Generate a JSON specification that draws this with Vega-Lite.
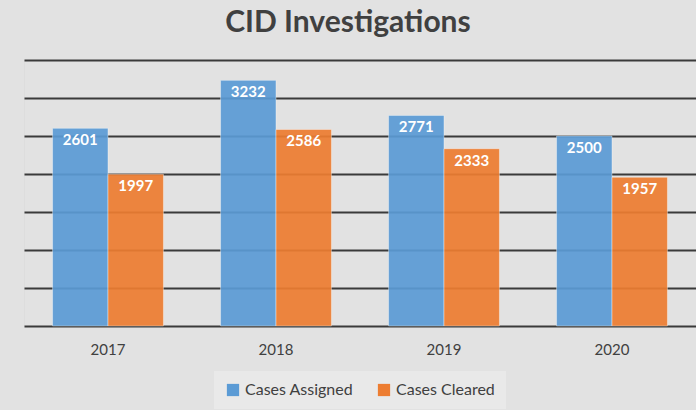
{
  "$schema": "https://vega.github.io/schema/vega-lite/v6.json",
  "width": 672,
  "height": 266,
  "autosize": {"type": "none"},
  "padding": {"left": 24, "top": 60, "right": 0, "bottom": 84},
  "background": "#e2e2e2",
  "title": {"text": "CID Investigations", "fontSize": 30, "font": "Lato", "fontWeight": "bold", "color": "#404040", "offset": 22, "anchor": "middle", "dx": -12},
  "data": {"values": [
    {"year": "2017", "series": "Cases Assigned", "value": 2601},
    {"year": "2017", "series": "Cases Cleared", "value": 1997},
    {"year": "2018", "series": "Cases Assigned", "value": 3232},
    {"year": "2018", "series": "Cases Cleared", "value": 2586},
    {"year": "2019", "series": "Cases Assigned", "value": 2771},
    {"year": "2019", "series": "Cases Cleared", "value": 2333},
    {"year": "2020", "series": "Cases Assigned", "value": 2500},
    {"year": "2020", "series": "Cases Cleared", "value": 1957}
  ]},
  "encoding": {
    "x": {"field": "year", "type": "nominal", "scale": {"paddingInner": 0.34, "paddingOuter": 0.17},
      "axis": {"title": null, "labelAngle": 0, "ticks": false, "domain": false, "labelPadding": 16, "labelFontSize": 15, "labelFont": "Lato", "labelColor": "#404040"}},
    "xOffset": {"field": "series", "type": "nominal", "sort": ["Cases Assigned", "Cases Cleared"]},
    "y": {"field": "value", "type": "quantitative", "scale": {"domain": [0, 3500], "nice": false},
      "axis": {"title": null, "labels": false, "ticks": false, "domain": false, "values": [0, 500, 1000, 1500, 2000, 2500, 3000, 3500], "gridColor": "#3a3a3a", "gridWidth": 2}}
  },
  "layer": [
    {"mark": {"type": "bar", "opacity": 0.92, "stroke": "#ffffff", "strokeOpacity": 0.4, "strokeWidth": 1},
      "encoding": {"color": {"field": "series", "type": "nominal",
        "scale": {"domain": ["Cases Assigned", "Cases Cleared"], "range": ["#5b9bd5", "#ed7d31"]},
        "legend": {"orient": "none", "legendX": 190, "legendY": 311, "direction": "horizontal", "title": null, "symbolType": "square", "symbolSize": 150, "symbolOpacity": 1, "labelFontSize": 16, "labelFont": "Lato", "labelColor": "#404040", "fillColor": "#e9e9e9", "padding": 11, "columnPadding": 22, "symbolStrokeWidth": 0}}}},
    {"mark": {"type": "text", "baseline": "middle", "dy": 12, "color": "white", "fontWeight": "bold", "fontSize": 15, "font": "Lato"},
      "encoding": {"text": {"field": "value", "type": "quantitative"}}}
  ]
}
